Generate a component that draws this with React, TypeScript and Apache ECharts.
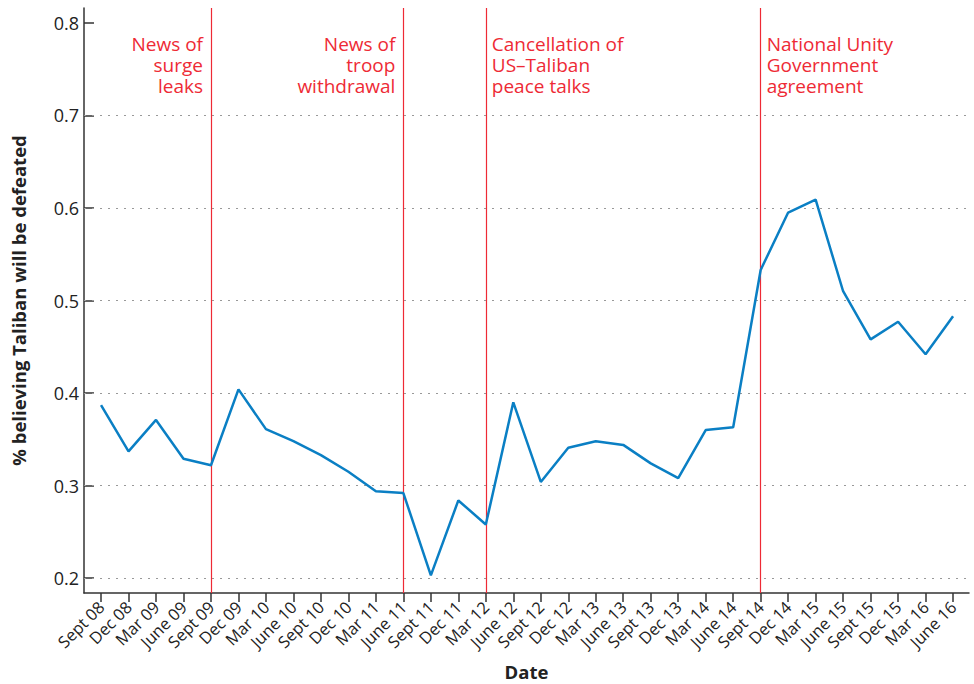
import React, { useEffect, useRef } from "react";
import * as echarts from "echarts";

const categories = [
  "Sept 08", "Dec 08", "Mar 09", "June 09", "Sept 09", "Dec 09", "Mar 10", "June 10",
  "Sept 10", "Dec 10", "Mar 11", "June 11", "Sept 11", "Dec 11", "Mar 12", "June 12",
  "Sept 12", "Dec 12", "Mar 13", "June 13", "Sept 13", "Dec 13", "Mar 14", "June 14",
  "Sept 14", "Dec 14", "Mar 15", "June 15", "Sept 15", "Dec 15", "Mar 16", "June 16",
];

const values = [
  0.387, 0.337, 0.371, 0.329, 0.322, 0.404, 0.361, 0.348,
  0.333, 0.315, 0.294, 0.292, 0.203, 0.284, 0.258, 0.390,
  0.304, 0.341, 0.348, 0.344, 0.324, 0.308, 0.360, 0.363,
  0.533, 0.595, 0.609, 0.510, 0.458, 0.477, 0.442, 0.483,
];

const yTicks = [0.2, 0.3, 0.4, 0.5, 0.6, 0.7, 0.8];
const gridValues = [0.2, 0.3, 0.4, 0.5, 0.6, 0.7];

const events = [
  { at: "Sept 09", lines: ["News of", "surge", "leaks"], side: "left" },
  { at: "June 11", lines: ["News of", "troop", "withdrawal"], side: "left" },
  { at: "Mar 12", lines: ["Cancellation of", "US\u2013Taliban", "peace talks"], side: "right" },
  { at: "Sept 14", lines: ["National Unity", "Government", "agreement"], side: "right" },
];

const FONT = "'Open Sans', 'Noto Sans', sans-serif";
const RED = "#ee2a35";

export default function App() {
  const ref = useRef<HTMLDivElement>(null);
  useEffect(() => {
    if (!ref.current) return;
    document.body.style.margin = "0";
    const chart = echarts.init(ref.current, null, { renderer: "svg" });
    const idx = categories.map((_, i) => i);
    const option: any = {
      animation: false,
      backgroundColor: "#ffffff",
      textStyle: { fontFamily: FONT },
      grid: { left: 84, top: 8, right: 5, bottom: 91, containLabel: false, outerBoundsMode: "none" },
      xAxis: {
        type: "value",
        min: -0.62,
        max: 31.58,
        name: "Date",
        nameLocation: "middle",
        nameGap: 69,
        nameTextStyle: { fontFamily: FONT, fontSize: 18.5, fontWeight: "bold", color: "#222" },
        axisLine: { show: true, onZero: false, lineStyle: { color: "#333", width: 1.5 } },
        axisTick: { show: true, inside: false, length: 9, customValues: idx, lineStyle: { color: "#333", width: 1.5 } },
        axisLabel: {
          customValues: idx,
          rotate: 45,
          margin: 11,
          hideOverlap: false,
          fontFamily: FONT,
          fontSize: 16.5,
          color: "#222",
          formatter: (v: number) => categories[Math.round(v)] ?? "",
        },
        splitLine: { show: false },
      },
      yAxis: {
        type: "value",
        min: 0.184,
        max: 0.816,
        name: "% believing Taliban will be defeated",
        nameLocation: "middle",
        nameGap: 56,
        nameTextStyle: { fontFamily: FONT, fontSize: 18.5, fontWeight: "bold", color: "#222" },
        axisLine: { show: true, onZero: false, lineStyle: { color: "#333", width: 1.5 } },
        axisTick: { show: true, inside: true, length: 10, customValues: yTicks, lineStyle: { color: "#333", width: 1.5 } },
        axisLabel: {
          customValues: yTicks,
          margin: 5,
          fontFamily: FONT,
          fontSize: 18,
          color: "#222",
          formatter: (v: number) => v.toFixed(1),
        },
        splitLine: { show: false },
      },
      series: [
        {
          type: "line",
          data: values.map((v, i) => [i, v]),
          symbol: "none",
          lineStyle: { color: "#0a7fc4", width: 2.5 },
          z: 5,
          markLine: {
            silent: true,
            symbol: ["none", "none"],
            label: { show: false },
            data: [
              ...gridValues.map((g) => ({
                yAxis: g,
                lineStyle: { color: "#999", type: [2, 6], width: 1 },
              })),
              ...events.map((e) => ({
                xAxis: categories.indexOf(e.at),
                lineStyle: { color: RED, type: "solid", width: 1.2 },
              })),
            ],
          },
        },
      ],
    };
    chart.setOption(option);

    const graphics: any[] = [];
    events.forEach((e) => {
      const px = chart.convertToPixel({ xAxisIndex: 0 }, categories.indexOf(e.at)) as number;
      const isLeft = e.side === "left";
      e.lines.forEach((line, li) => {
        graphics.push({
          type: "text",
          x: isLeft ? px - 8 : px + 6,
          y: 44 + li * 21,
          style: {
            text: line,
            fill: RED,
            font: `19px ${FONT}`,
            align: isLeft ? "right" : "left",
            verticalAlign: "middle",
          },
          z: 10,
        });
      });
    });
    chart.setOption({ graphic: graphics });

    return () => chart.dispose();
  }, []);
  return <div ref={ref} style={{ width: 974, height: 684 }} />;
}
